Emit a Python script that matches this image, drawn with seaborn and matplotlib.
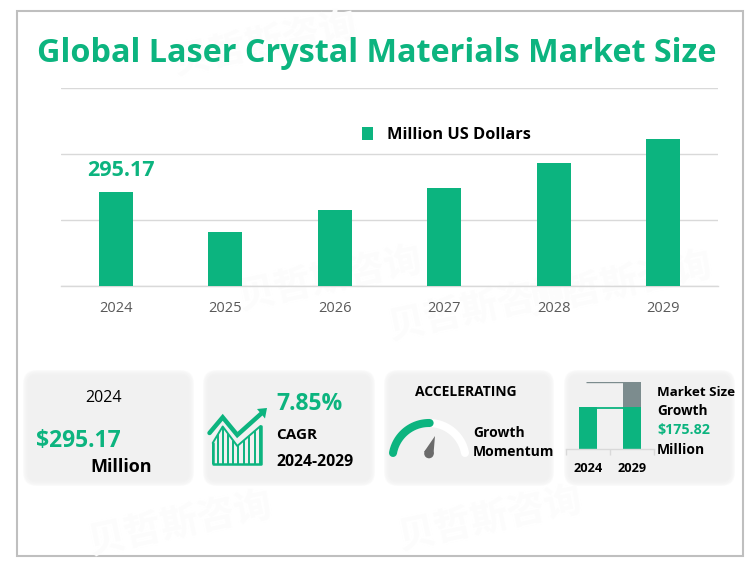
import numpy as np
import pandas as pd
from matplotlib import pyplot as plt
from matplotlib.patches import Circle, FancyBboxPatch, Polygon, Rectangle
import seaborn as sns

YEARS = ['2024', '2025', '2026', '2027', '2028', '2029']
MARKET_SIZE = [295.17, 169.6, 238.6, 307.7, 386.2, 461.6]
GRID_STEP = 207.3

GROWTH_YEARS = ['2024', '2029']
GROWTH_BASE = [295.17, 295.17]
GROWTH_ADDED = [0, 175.82]

GREEN = '#0CB47F'
GREY_BAR = '#7C8C8E'
LINE = '#D9D9D9'
W, H = 751, 566

sns.set_theme(style='white')
plt.rcParams['font.family'] = ['Open Sans', 'Noto Sans CJK SC', 'DejaVu Sans']


def px_axes(f, x0, y0, x1, y1):
    return f.add_axes([x0 / W, 1 - y1 / H, (x1 - x0) / W, (y1 - y0) / H])


def card(ax, x0, y0, x1, y1):
    # soft edge: stack of translucent boxes, then a solid core
    for grow in [2, 1, 0, -1, -2, -3]:
        ax.add_patch(FancyBboxPatch(
            (x0 - grow, y0 - grow), x1 - x0 + 2 * grow, y1 - y0 + 2 * grow,
            boxstyle='round,pad=0,rounding_size={}'.format(12 + grow),
            facecolor='#F1F1F1', edgecolor='none', alpha=.3,
        ))
    ax.add_patch(FancyBboxPatch(
        (x0 + 4, y0 + 4), x1 - x0 - 8, y1 - y0 - 8,
        boxstyle='round,pad=0,rounding_size=8',
        facecolor='#F1F1F1', edgecolor='none',
    ))


def label(ax, x, y, s, size, weight='bold', color='black', ha='left'):
    ax.text(x, y + 1, s, fontsize=size, fontweight=weight, color=color,
            ha=ha, va='center')


f = plt.figure(figsize=(W / 100, H / 100), dpi=100, facecolor='white')

bg = px_axes(f, 0, 0, W, H)
bg.set_xlim(0, W)
bg.set_ylim(H, 0)
bg.axis('off')

# faint watermark
for x, y in [(265, 45), (330, 280), (620, 285), (480, 310), (180, 525), (490, 520)]:
    bg.text(x, y, '贝哲斯咨询', fontsize=27, color='#FCFCFC', rotation=12,
            ha='center', va='center', fontweight='bold')

bg.add_patch(Rectangle((17, 11), 726, 545, fill=False, edgecolor='#BFBFBF', lw=1.5))

bg.text(377, 54, 'Global Laser Crystal Materials Market Size', fontsize=23.3,
        fontweight='bold', color=GREEN, ha='center', va='center')

for box in [(25, 372, 192, 484), (205, 372, 373, 484),
            (386, 372, 552, 484), (566, 372, 733, 484)]:
    card(bg, *box)

# main bars
ax = px_axes(f, 61, 88, 718, 286)
ax.patch.set_alpha(0)
df = pd.DataFrame({'year': YEARS, 'size': MARKET_SIZE})
sns.barplot(data=df, x='year', y='size', color=GREEN, saturation=1, width=.31,
            linewidth=0, label='Million US Dollars', ax=ax, zorder=3)
ax.set_ylim(0, 3 * GRID_STEP)
ax.set_yticks([GRID_STEP * i for i in range(4)])
ax.set_yticklabels([])
ax.grid(axis='y', color=LINE, lw=1)
ax.set_axisbelow(True)
ax.set_xlabel('')
ax.set_ylabel('')
ax.tick_params(axis='x', length=0, labelsize=10.5, labelcolor='#595959', pad=11)
ax.tick_params(axis='y', length=0)
sns.despine(ax=ax, left=True, top=True, right=True)
ax.spines['bottom'].set_color(LINE)
ax.spines['bottom'].set_linewidth(1)
ax.annotate('295.17', (0, MARKET_SIZE[0]), xytext=(5, 22), textcoords='offset pixels',
            fontsize=15.5, fontweight='bold', color=GREEN, ha='center', va='center')
ax.legend(loc='center', bbox_to_anchor=(.5868, .762), frameon=False,
          handlelength=.65, handleheight=.85, handletextpad=.9, labelcolor='black',
          prop={'size': 11.8, 'weight': 'bold'})

# card 1
label(bg, 103.5, 397, '2024', 11.5, weight='normal', ha='center')
label(bg, 36, 440, '$295.17', 16.5, color=GREEN)
label(bg, 90, 466, 'Million', 13)

# card 2, icon then text
peak_x = [212.7, 222.7, 237.3, 260.5]
peak_y = [443, 426.5, 446, 426]
xs = np.array([212.7, 218.3, 223.3, 228.3, 233.3, 238.3, 244, 249.3, 255, 260.3])
bg.plot([212.7, 212.7, 260.5, 260.5], [443, 464.3, 464.3, 426],
        color=GREEN, lw=1.8, solid_capstyle='round')
bg.plot(peak_x, peak_y, color=GREEN, lw=1.4)
bg.vlines(xs, np.interp(xs, peak_x, peak_y), 464, color=GREEN, lw=1.4)
bg.plot([209.5, 222.7, 237.3, 261], [433, 417.3, 435, 413.8], color=GREEN, lw=3.2,
        solid_joinstyle='miter', solid_capstyle='round')
bg.add_patch(Polygon([(257, 409), (267, 408), (265, 418.5)], color=GREEN, lw=0))
label(bg, 276, 403, '7.85%', 16.5, color=GREEN)
label(bg, 276, 434, 'CAGR', 11)
label(bg, 276, 461, '2024-2029', 11.3)

# card 3, gauge
angles = np.radians(np.linspace(169.6, 10.4, 80))
gauge_x = 429 + 36.6 * np.cos(angles)
gauge_y = 459.6 - 36.6 * np.sin(angles)
bg.plot(gauge_x, gauge_y, color='white', lw=5.8, solid_capstyle='round')
part = np.degrees(angles) >= 88
bg.plot(gauge_x[part], gauge_y[part], color=GREEN, lw=5.8, solid_capstyle='round')
bg.add_patch(Polygon([(435, 436), (424, 452), (433.5, 454)], color='#6B6B6B', lw=0))
bg.add_patch(Circle((429, 453.5), 4.8, color='#6B6B6B', lw=0))
label(bg, 465.5, 391, 'ACCELERATING', 10, ha='center')
label(bg, 473, 432, 'Growth', 10)
label(bg, 473, 451, 'Momentum', 10)

# card 4, small stacked bars
mini = px_axes(f, 566, 382, 654, 448.5)
mini.patch.set_alpha(0)
totals = [b + g for b, g in zip(GROWTH_BASE, GROWTH_ADDED)]
sns.barplot(x=GROWTH_YEARS, y=totals, color=GREY_BAR, saturation=1, width=.41,
            linewidth=0, ax=mini)
sns.barplot(x=GROWTH_YEARS, y=GROWTH_BASE, color=GREEN, saturation=1, width=.41,
            linewidth=0, ax=mini)
mini.set_ylim(0, max(totals))
mini.set_xlim(-.5, 1.5)
mini.hlines(max(totals), -.045, .8, color=GREY_BAR, lw=1)
mini.hlines(GROWTH_BASE[0] * .96, .2, .8, color=GREEN, lw=1.3)
mini.set_yticks([])
mini.set_xticks([-.5, .5, 1.5], labels=[])
mini.set_xticks([0, 1], labels=GROWTH_YEARS, minor=True)
mini.tick_params(axis='x', which='major', length=4, color=LINE, width=1, bottom=True)
mini.tick_params(axis='x', which='minor', length=0, labelsize=9.2, labelcolor='black', pad=10)
for tick in mini.get_xticklabels(minor=True):
    tick.set_fontweight('bold')
sns.despine(ax=mini, left=True, top=True, right=True)
mini.spines['bottom'].set_color(LINE)
mini.spines['bottom'].set_linewidth(1)
label(bg, 657, 391, 'Market Size', 9.6)
label(bg, 657, 410, 'Growth', 9.8)
label(bg, 657, 429, '$175.82', 10.3, color=GREEN)
label(bg, 657, 449, 'Million', 10)

f.savefig('out.png', dpi=100)
